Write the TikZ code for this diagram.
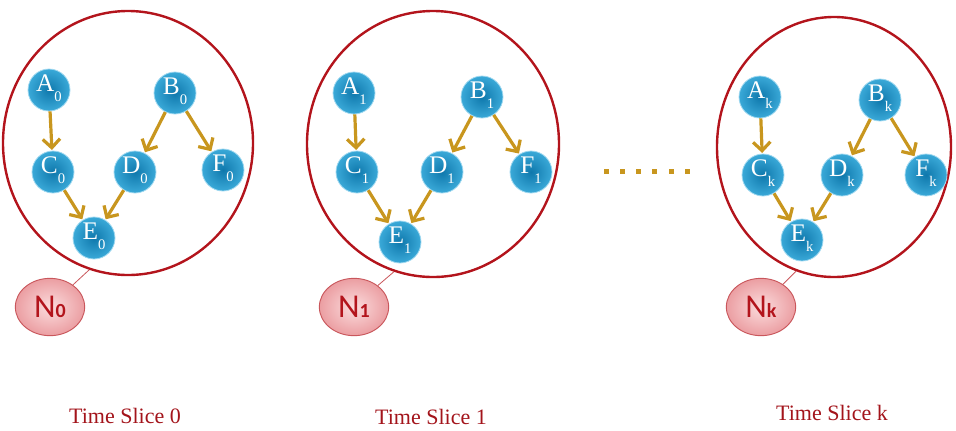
\documentclass[tikz,border=0pt]{standalone}
\usepackage{fontspec}
\setmainfont{Liberation Serif}
\newfontfamily\nfont{Carlito}
\usetikzlibrary{shapes.geometric, arrows.meta, positioning}

\definecolor{ringred}{HTML}{B3141C}
\definecolor{slicered}{HTML}{A3141B}
\definecolor{linkgold}{HTML}{C8961E}
\definecolor{ballin}{HTML}{0F78AC}
\definecolor{ballout}{HTML}{3AA9D8}
\definecolor{ballrim}{HTML}{9FD8F0}
\definecolor{nin}{HTML}{FBDCDD}
\definecolor{nout}{HTML}{EB9EA2}
\definecolor{nrim}{HTML}{C9575C}

\newcommand{\vlab}[2]{#1\raisebox{-7pt}{\fontsize{11}{11}\selectfont #2}}
\newcommand{\nlab}[1]{N{\bfseries\fontsize{15}{15}\selectfont #1}}

\begin{document}
\begin{tikzpicture}[x=0.75pt, y=-0.75pt,
    var/.style={circle, inner sep=0pt, minimum size=31.5pt, inner color=ballin, outer color=ballout,
      draw=ballrim, line width=0.6pt, text=white, font=\fontsize{19}{19}\selectfont,
      text height=12.5pt, text depth=10pt},
    ring/.style={ellipse, inner sep=0pt, draw=ringred, line width=1.8pt},
    net/.style={ellipse, inner sep=0pt, minimum width=52pt, minimum height=43pt, inner color=nin,
      outer color=nout, draw=nrim, line width=0.7pt, text=ringred, font=\nfont\fontsize{25}{25}\selectfont},
    link/.style={draw=linkgold, line width=2.4pt, -{Straight Barb[length=6.5pt,width=13pt]}, shorten >=0.5pt},
    tie/.style={draw=nrim, line width=0.6pt},
    slice/.style={text=slicered, font=\fontsize{16.5}{16.5}\selectfont}]
  \useasboundingbox (0,0) rectangle (956,430);

		\node (ring0) [ring, minimum width=187.5pt, minimum height=198pt] at (128,143) {};
		\node (a0) [var] at (49,90) {\vlab{A}{0}};
		\node (b0) [var] at (175,93) {\vlab{B}{0}};
		\node (c0) [var] at (53,172) {\vlab{C}{0}};
		\node (d0) [var] at (135,172) {\vlab{D}{0}};
		\node (f0) [var] at (223,170) {\vlab{F}{0}};
		\node (e0) [var] at (94,238) {\vlab{E}{0}};
		\draw [link] (a0) -- (c0);
		\draw [link] (b0) -- (d0);
		\draw [link] (b0) -- (f0);
		\draw [link] (c0) -- (e0);
		\draw [link] (d0) -- (e0);
		\node (n0) [net] at (50,307) {\nlab{0}};
		\draw [tie] (n0.44) -- (ring0.253);
		\node (t0) [slice] at (125,416) {Time Slice 0};

		\node (ring1) [ring, minimum width=189pt, minimum height=199.5pt] at (433,144) {};
		\node (a1) [var] at (354,93) {\vlab{A}{1}};
		\node (b1) [var] at (482,97) {\vlab{B}{1}};
		\node (c1) [var] at (357,172) {\vlab{C}{1}};
		\node (d1) [var] at (442,172) {\vlab{D}{1}};
		\node (f1) [var] at (531,172) {\vlab{F}{1}};
		\node (e1) [var] at (400,242) {\vlab{E}{1}};
		\draw [link] (a1) -- (c1);
		\draw [link] (b1) -- (d1);
		\draw [link] (b1) -- (f1);
		\draw [link] (c1) -- (e1);
		\draw [link] (d1) -- (e1);
		\node (n1) [net] at (354,307) {\nlab{1}};
		\draw [tie] (n1.42) -- (ring1.253);
		\node (t1) [slice] at (431,417) {Time Slice 1};

		\foreach \i in {0,...,5}
			\fill [linkgold] (606+16.3*\i-2.5,168.5) rectangle ++(5,5);

		\node (ringk) [ring, minimum width=175.5pt, minimum height=195pt] at (834,147) {};
		\node (ak) [var] at (760,97) {\vlab{A}{k}};
		\node (bk) [var] at (880,100) {\vlab{B}{k}};
		\node (ck) [var] at (763,175) {\vlab{C}{k}};
		\node (dk) [var] at (842,175) {\vlab{D}{k}};
		\node (fk) [var] at (926,175) {\vlab{F}{k}};
		\node (ek) [var] at (802,240) {\vlab{E}{k}};
		\draw [link] (ak) -- (ck);
		\draw [link] (bk) -- (dk);
		\draw [link] (bk) -- (fk);
		\draw [link] (ck) -- (ek);
		\draw [link] (dk) -- (ek);
		\node (nk) [net] at (761,307) {\nlab{k}};
		\draw [tie] (nk.46) -- (ringk.253);
		\node (tk) [slice] at (832,413) {Time Slice k};
\end{tikzpicture}
\end{document}
